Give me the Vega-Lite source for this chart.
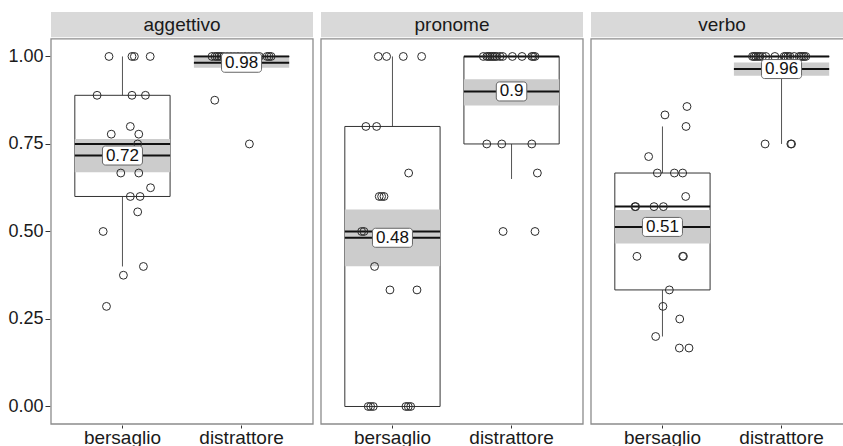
{
  "$schema": "https://vega.github.io/schema/vega-lite/v6.json",
  "padding": {"left": 7, "top": 12, "right": 0, "bottom": 0},
  "config": {
    "font": "Liberation Sans",
    "view": {"stroke": null},
    "facet": {"spacing": 6},
    "axis": {"grid": false, "domain": false, "labelFont": "Liberation Sans", "labelFontSize": 18, "labelColor": "#1a1a1a", "tickColor": "#333333", "title": null}
  },
  "data": {"values": [
    {"tipo":"aggettivo"},
    {"tipo":"pronome"},
    {"tipo":"verbo"},
    {"tipo":"aggettivo","cond":"bersaglio","lo":0.4,"q1":0.6,"med":0.75,"q3":0.889,"hi":1,"mean":0.717,"slo":0.669,"shi":0.764,"lab":"0.72"},
    {"tipo":"aggettivo","cond":"distrattore","lo":1,"q1":1,"med":1,"q3":1,"hi":1,"mean":0.982,"slo":0.968,"shi":0.996,"lab":"0.98"},
    {"tipo":"pronome","cond":"bersaglio","lo":0,"q1":0,"med":0.5,"q3":0.8,"hi":1,"mean":0.482,"slo":0.401,"shi":0.563,"lab":"0.48"},
    {"tipo":"pronome","cond":"distrattore","lo":0.65,"q1":0.75,"med":1,"q3":1,"hi":1,"mean":0.9,"slo":0.86,"shi":0.935,"lab":"0.9"},
    {"tipo":"verbo","cond":"bersaglio","lo":0.2,"q1":0.333,"med":0.571,"q3":0.667,"hi":0.8,"mean":0.513,"slo":0.466,"shi":0.561,"lab":"0.51"},
    {"tipo":"verbo","cond":"distrattore","lo":0.75,"q1":1,"med":1,"q3":1,"hi":1,"mean":0.964,"slo":0.945,"shi":0.983,"lab":"0.96"},
    {"tipo":"aggettivo","cond":"bersaglio","j":-0.113,"y":1},
    {"tipo":"aggettivo","cond":"bersaglio","j":0.080,"y":1},
    {"tipo":"aggettivo","cond":"bersaglio","j":0.100,"y":1},
    {"tipo":"aggettivo","cond":"bersaglio","j":0.233,"y":1},
    {"tipo":"aggettivo","cond":"bersaglio","j":-0.213,"y":0.889},
    {"tipo":"aggettivo","cond":"bersaglio","j":0.080,"y":0.889},
    {"tipo":"aggettivo","cond":"bersaglio","j":0.193,"y":0.889},
    {"tipo":"aggettivo","cond":"bersaglio","j":0.066,"y":0.8},
    {"tipo":"aggettivo","cond":"bersaglio","j":-0.094,"y":0.778},
    {"tipo":"aggettivo","cond":"bersaglio","j":0.137,"y":0.778},
    {"tipo":"aggettivo","cond":"bersaglio","j":0.128,"y":0.75},
    {"tipo":"aggettivo","cond":"bersaglio","j":-0.014,"y":0.667},
    {"tipo":"aggettivo","cond":"bersaglio","j":0.137,"y":0.667},
    {"tipo":"aggettivo","cond":"bersaglio","j":0.236,"y":0.625},
    {"tipo":"aggettivo","cond":"bersaglio","j":0.066,"y":0.6},
    {"tipo":"aggettivo","cond":"bersaglio","j":0.148,"y":0.6},
    {"tipo":"aggettivo","cond":"bersaglio","j":0.128,"y":0.556},
    {"tipo":"aggettivo","cond":"bersaglio","j":-0.162,"y":0.5},
    {"tipo":"aggettivo","cond":"bersaglio","j":0.176,"y":0.4},
    {"tipo":"aggettivo","cond":"bersaglio","j":0.008,"y":0.375},
    {"tipo":"aggettivo","cond":"bersaglio","j":-0.134,"y":0.286},
    {"tipo":"aggettivo","cond":"distrattore","j":-0.248,"y":1},
    {"tipo":"aggettivo","cond":"distrattore","j":-0.223,"y":1},
    {"tipo":"aggettivo","cond":"distrattore","j":-0.206,"y":1},
    {"tipo":"aggettivo","cond":"distrattore","j":-0.189,"y":1},
    {"tipo":"aggettivo","cond":"distrattore","j":-0.172,"y":1},
    {"tipo":"aggettivo","cond":"distrattore","j":-0.15,"y":1},
    {"tipo":"aggettivo","cond":"distrattore","j":-0.12,"y":1},
    {"tipo":"aggettivo","cond":"distrattore","j":-0.09,"y":1},
    {"tipo":"aggettivo","cond":"distrattore","j":-0.06,"y":1},
    {"tipo":"aggettivo","cond":"distrattore","j":-0.03,"y":1},
    {"tipo":"aggettivo","cond":"distrattore","j":0.0,"y":1},
    {"tipo":"aggettivo","cond":"distrattore","j":0.03,"y":1},
    {"tipo":"aggettivo","cond":"distrattore","j":0.06,"y":1},
    {"tipo":"aggettivo","cond":"distrattore","j":0.09,"y":1},
    {"tipo":"aggettivo","cond":"distrattore","j":0.12,"y":1},
    {"tipo":"aggettivo","cond":"distrattore","j":0.15,"y":1},
    {"tipo":"aggettivo","cond":"distrattore","j":0.214,"y":1},
    {"tipo":"aggettivo","cond":"distrattore","j":0.231,"y":1},
    {"tipo":"aggettivo","cond":"distrattore","j":0.248,"y":1},
    {"tipo":"aggettivo","cond":"distrattore","j":-0.225,"y":0.875},
    {"tipo":"aggettivo","cond":"distrattore","j":0.066,"y":0.75},
    {"tipo":"pronome","cond":"bersaglio","j":-0.119,"y":1},
    {"tipo":"pronome","cond":"bersaglio","j":-0.049,"y":1},
    {"tipo":"pronome","cond":"bersaglio","j":0.091,"y":1},
    {"tipo":"pronome","cond":"bersaglio","j":0.245,"y":1},
    {"tipo":"pronome","cond":"bersaglio","j":-0.223,"y":0.8},
    {"tipo":"pronome","cond":"bersaglio","j":-0.133,"y":0.8},
    {"tipo":"pronome","cond":"bersaglio","j":0.136,"y":0.667},
    {"tipo":"pronome","cond":"bersaglio","j":-0.111,"y":0.6},
    {"tipo":"pronome","cond":"bersaglio","j":-0.091,"y":0.6},
    {"tipo":"pronome","cond":"bersaglio","j":-0.071,"y":0.6},
    {"tipo":"pronome","cond":"bersaglio","j":-0.259,"y":0.5},
    {"tipo":"pronome","cond":"bersaglio","j":-0.239,"y":0.5},
    {"tipo":"pronome","cond":"bersaglio","j":-0.150,"y":0.4},
    {"tipo":"pronome","cond":"bersaglio","j":-0.021,"y":0.333},
    {"tipo":"pronome","cond":"bersaglio","j":0.206,"y":0.333},
    {"tipo":"pronome","cond":"bersaglio","j":-0.203,"y":0},
    {"tipo":"pronome","cond":"bersaglio","j":-0.183,"y":0},
    {"tipo":"pronome","cond":"bersaglio","j":-0.161,"y":0},
    {"tipo":"pronome","cond":"bersaglio","j":0.113,"y":0},
    {"tipo":"pronome","cond":"bersaglio","j":0.133,"y":0},
    {"tipo":"pronome","cond":"bersaglio","j":0.153,"y":0},
    {"tipo":"pronome","cond":"distrattore","j":-0.237,"y":1},
    {"tipo":"pronome","cond":"distrattore","j":-0.208,"y":1},
    {"tipo":"pronome","cond":"distrattore","j":-0.195,"y":1},
    {"tipo":"pronome","cond":"distrattore","j":-0.181,"y":1},
    {"tipo":"pronome","cond":"distrattore","j":-0.166,"y":1},
    {"tipo":"pronome","cond":"distrattore","j":-0.153,"y":1},
    {"tipo":"pronome","cond":"distrattore","j":-0.139,"y":1},
    {"tipo":"pronome","cond":"distrattore","j":-0.124,"y":1},
    {"tipo":"pronome","cond":"distrattore","j":-0.097,"y":1},
    {"tipo":"pronome","cond":"distrattore","j":-0.074,"y":1},
    {"tipo":"pronome","cond":"distrattore","j":0.007,"y":1},
    {"tipo":"pronome","cond":"distrattore","j":0.088,"y":1},
    {"tipo":"pronome","cond":"distrattore","j":0.170,"y":1},
    {"tipo":"pronome","cond":"distrattore","j":0.183,"y":1},
    {"tipo":"pronome","cond":"distrattore","j":0.197,"y":1},
    {"tipo":"pronome","cond":"distrattore","j":-0.208,"y":0.75},
    {"tipo":"pronome","cond":"distrattore","j":-0.082,"y":0.75},
    {"tipo":"pronome","cond":"distrattore","j":0.170,"y":0.75},
    {"tipo":"pronome","cond":"distrattore","j":0.217,"y":0.667},
    {"tipo":"pronome","cond":"distrattore","j":-0.071,"y":0.5},
    {"tipo":"pronome","cond":"distrattore","j":0.197,"y":0.5},
    {"tipo":"verbo","cond":"bersaglio","j":0.206,"y":0.857},
    {"tipo":"verbo","cond":"bersaglio","j":0.021,"y":0.833},
    {"tipo":"verbo","cond":"bersaglio","j":0.198,"y":0.8},
    {"tipo":"verbo","cond":"bersaglio","j":-0.116,"y":0.714},
    {"tipo":"verbo","cond":"bersaglio","j":-0.043,"y":0.667},
    {"tipo":"verbo","cond":"bersaglio","j":0.100,"y":0.667},
    {"tipo":"verbo","cond":"bersaglio","j":0.170,"y":0.667},
    {"tipo":"verbo","cond":"bersaglio","j":0.195,"y":0.6},
    {"tipo":"verbo","cond":"bersaglio","j":-0.231,"y":0.571},
    {"tipo":"verbo","cond":"bersaglio","j":-0.225,"y":0.571},
    {"tipo":"verbo","cond":"bersaglio","j":-0.071,"y":0.571},
    {"tipo":"verbo","cond":"bersaglio","j":0.008,"y":0.571},
    {"tipo":"verbo","cond":"bersaglio","j":-0.214,"y":0.429},
    {"tipo":"verbo","cond":"bersaglio","j":0.170,"y":0.429},
    {"tipo":"verbo","cond":"bersaglio","j":0.176,"y":0.429},
    {"tipo":"verbo","cond":"bersaglio","j":0.058,"y":0.333},
    {"tipo":"verbo","cond":"bersaglio","j":0.004,"y":0.286},
    {"tipo":"verbo","cond":"bersaglio","j":0.145,"y":0.25},
    {"tipo":"verbo","cond":"bersaglio","j":-0.057,"y":0.2},
    {"tipo":"verbo","cond":"bersaglio","j":0.142,"y":0.167},
    {"tipo":"verbo","cond":"bersaglio","j":0.223,"y":0.167},
    {"tipo":"verbo","cond":"distrattore","j":-0.244,"y":1},
    {"tipo":"verbo","cond":"distrattore","j":-0.230,"y":1},
    {"tipo":"verbo","cond":"distrattore","j":-0.216,"y":1},
    {"tipo":"verbo","cond":"distrattore","j":-0.199,"y":1},
    {"tipo":"verbo","cond":"distrattore","j":-0.182,"y":1},
    {"tipo":"verbo","cond":"distrattore","j":-0.160,"y":1},
    {"tipo":"verbo","cond":"distrattore","j":-0.132,"y":1},
    {"tipo":"verbo","cond":"distrattore","j":-0.056,"y":1},
    {"tipo":"verbo","cond":"distrattore","j":0.022,"y":1},
    {"tipo":"verbo","cond":"distrattore","j":0.036,"y":1},
    {"tipo":"verbo","cond":"distrattore","j":0.053,"y":1},
    {"tipo":"verbo","cond":"distrattore","j":0.070,"y":1},
    {"tipo":"verbo","cond":"distrattore","j":0.106,"y":1},
    {"tipo":"verbo","cond":"distrattore","j":0.148,"y":1},
    {"tipo":"verbo","cond":"distrattore","j":0.162,"y":1},
    {"tipo":"verbo","cond":"distrattore","j":0.176,"y":1},
    {"tipo":"verbo","cond":"distrattore","j":0.190,"y":1},
    {"tipo":"verbo","cond":"distrattore","j":0.204,"y":1},
    {"tipo":"verbo","cond":"distrattore","j":-0.138,"y":0.75},
    {"tipo":"verbo","cond":"distrattore","j":0.078,"y":0.75},
    {"tipo":"verbo","cond":"distrattore","j":0.084,"y":0.75}
  ]},
  "facet": {"column": {"field": "tipo", "type": "nominal", "header": {"labels": false, "title": null}}},
  "spec": {
    "width": 262,
    "height": 412,
    "resolve": {"scale": {"xOffset": "independent"}},
    "layer": [
      {
        "transform": [{"filter": "!isValid(datum.cond)"}],
        "mark": {"type": "rect", "fill": "#d9d9d9"},
        "encoding": {
          "y": {"datum": 1.055, "type": "quantitative", "scale": {"domain": [-0.05, 1.127], "nice": false, "zero": false}, "axis": {"values": [0, 0.25, 0.5, 0.75, 1], "format": ".2f", "tickSize": 5, "labelPadding": 2, "title": null}},
          "y2": {"datum": 1.127}
        }
      },
      {
        "transform": [{"filter": "!isValid(datum.cond)"}],
        "mark": {"type": "text", "fontSize": 19, "color": "#1a1a1a", "baseline": "middle"},
        "encoding": {
          "y": {"datum": 1.091, "type": "quantitative"},
          "text": {"field": "tipo"}
        }
      },
      {
        "transform": [{"filter": "!isValid(datum.cond)"}],
        "mark": {"type": "rect", "fill": null, "fillOpacity": 0, "stroke": "#8c8c8c", "strokeWidth": 1.3},
        "encoding": {
          "y": {"datum": -0.05, "type": "quantitative"},
          "y2": {"datum": 1.05}
        }
      },
      {
        "transform": [{"filter": "isValid(datum.lab)"}],
        "mark": {"type": "rule", "stroke": "#555555", "strokeWidth": 1},
        "encoding": {
          "x": {"field": "cond", "type": "nominal", "scale": {"type": "band", "domain": ["bersaglio", "distrattore"], "paddingInner": 0.2, "paddingOuter": 0.2}, "axis": {"title": null, "labelAngle": 0, "tickSize": 3, "labelPadding": 0, "labelFontSize": 19}},
          "y": {"field": "lo", "type": "quantitative", "title": null},
          "y2": {"field": "hi"}
        }
      },
      {
        "transform": [{"filter": "isValid(datum.lab)"}],
        "mark": {"type": "bar", "fill": "white", "stroke": "#333333", "strokeWidth": 1, "width": {"band": 1}},
        "encoding": {
          "x": {"field": "cond", "type": "nominal"},
          "y": {"field": "q1", "type": "quantitative", "title": null},
          "y2": {"field": "q3"}
        }
      },
      {
        "transform": [{"filter": "isValid(datum.lab)"}],
        "mark": {"type": "bar", "fill": "#cccccc", "opacity": 1, "width": {"band": 1}},
        "encoding": {
          "x": {"field": "cond", "type": "nominal"},
          "y": {"field": "slo", "type": "quantitative", "title": null},
          "y2": {"field": "shi"}
        }
      },
      {
        "transform": [{"filter": "isValid(datum.lab)"}],
        "mark": {"type": "bar", "fill": null, "fillOpacity": 0, "stroke": "#111111", "strokeWidth": 2, "width": {"band": 1}},
        "encoding": {
          "x": {"field": "cond", "type": "nominal"},
          "y": {"field": "med", "type": "quantitative", "title": null},
          "y2": {"field": "med"}
        }
      },
      {
        "transform": [{"filter": "isValid(datum.lab)"}],
        "mark": {"type": "bar", "fill": null, "fillOpacity": 0, "stroke": "#111111", "strokeWidth": 2, "width": {"band": 1}},
        "encoding": {
          "x": {"field": "cond", "type": "nominal"},
          "y": {"field": "mean", "type": "quantitative", "title": null},
          "y2": {"field": "mean"}
        }
      },
      {
        "transform": [{"filter": "isValid(datum.j)"}],
        "mark": {"type": "point", "shape": "circle", "filled": false, "stroke": "#2b2b2b", "strokeWidth": 1, "size": 62, "opacity": 1},
        "encoding": {
          "x": {"field": "cond", "type": "nominal"},
          "xOffset": {"field": "j", "type": "quantitative", "scale": {"domain": [-0.4, 0.4]}},
          "y": {"field": "y", "type": "quantitative", "title": null}
        }
      },
      {
        "transform": [{"filter": "isValid(datum.lab) && length(datum.lab) == 4"}],
        "mark": {"type": "bar", "fill": "white", "stroke": "#666666", "strokeWidth": 1, "cornerRadius": 3, "width": {"band": 0.42}, "yOffset": -9.5, "y2Offset": 9.5},
        "encoding": {
          "x": {"field": "cond", "type": "nominal"},
          "y": {"field": "mean", "type": "quantitative", "title": null},
          "y2": {"field": "mean"}
        }
      },
      {
        "transform": [{"filter": "isValid(datum.lab) && length(datum.lab) == 3"}],
        "mark": {"type": "bar", "fill": "white", "stroke": "#666666", "strokeWidth": 1, "cornerRadius": 3, "width": {"band": 0.32}, "yOffset": -9.5, "y2Offset": 9.5},
        "encoding": {
          "x": {"field": "cond", "type": "nominal"},
          "y": {"field": "mean", "type": "quantitative", "title": null},
          "y2": {"field": "mean"}
        }
      },
      {
        "transform": [{"filter": "isValid(datum.lab)"}],
        "mark": {"type": "text", "fontSize": 17, "color": "#111111", "baseline": "middle"},
        "encoding": {
          "x": {"field": "cond", "type": "nominal"},
          "y": {"field": "mean", "type": "quantitative", "title": null},
          "text": {"field": "lab"}
        }
      }
    ]
  }
}
